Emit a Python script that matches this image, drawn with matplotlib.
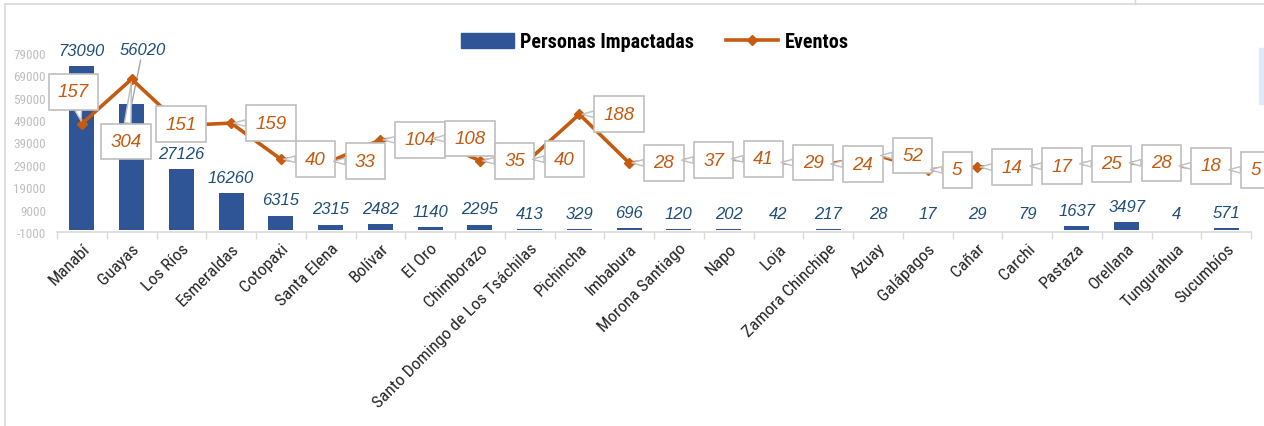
import numpy as np
import matplotlib.pyplot as plt
from matplotlib import font_manager
from matplotlib.patches import Rectangle
from matplotlib.lines import Line2D

# datos
provincias = ['Manabí', 'Guayas', 'Los Ríos', 'Esmeraldas', 'Cotopaxi', 'Santa Elena',
              'Bolívar', 'El Oro', 'Chimborazo', 'Santo Domingo de Los Tsáchilas',
              'Pichincha', 'Imbabura', 'Morona Santiago', 'Napo', 'Loja',
              'Zamora Chinchipe', 'Azuay', 'Galápagos', 'Cañar', 'Carchi', 'Pastaza',
              'Orellana', 'Tungurahua', 'Sucumbíos']
personas = [73090, 56020, 27126, 16260, 6315, 2315, 2482, 1140, 2295, 413, 329, 696,
            120, 202, 42, 217, 28, 17, 29, 79, 1637, 3497, 4, 571]
eventos = [157, 304, 151, 159, 40, 33, 104, 108, 35, 40, 188, 28, 37, 41, 29, 24, 52,
           5, 14, 17, 25, 28, 18, 5]
yticks = [-1000, 9000, 19000, 29000, 39000, 49000, 59000, 69000, 79000]

# posicion de las etiquetas de eventos (puntos, alineacion)
ev_off = [(-6, 23, 'center'), (-4, -45, 'center'), (0, 1, 'center')] + [(17.5, 0, 'left')] * 21

avail = {f.name for f in font_manager.fontManager.ttflist}
cond = [f for f in ['Liberation Sans Narrow', 'Roboto Condensed', 'Open Sans Condensed',
                    'DejaVu Sans Condensed'] if f in avail]
cond_fam = cond + ['DejaVu Sans']
body_fam = ['Liberation Sans', 'DejaVu Sans'] if 'Liberation Sans' in avail else ['DejaVu Sans']

BLUE = '#2F5597'
ORANGE = '#C55A11'
LBL_BLUE = '#1F4E79'

fig = plt.figure(figsize=(12.64, 4.27), dpi=100)
ax = fig.add_axes([57 / 1264, 1 - 233 / 427, 1194 / 1264, 179 / 427])
ax2 = ax.twinx()

x = np.arange(len(provincias))
ax.bar(x, personas, width=0.5, color=BLUE, zorder=2)
ax.set_xlim(-0.5, len(x) - 0.5)
ax.set_ylim(-1000, 79000)
ax.set_yticks(yticks)
ax.set_yticklabels([str(v) for v in yticks], family=cond_fam, fontsize=9.5, color='#BFBFBF')
ax.tick_params(axis='y', length=0, pad=8)
ax.set_xticks(x)
ax.set_xticklabels(provincias, rotation=45, ha='right', rotation_mode='anchor',
                   family=cond_fam, fontsize=12.5, color='#262626')
ax.set_xticks(np.arange(-0.5, len(x), 1), minor=True)
ax.tick_params(axis='x', which='major', length=0, pad=6)
ax.tick_params(axis='x', which='minor', length=5, color='#D9D9D9', width=1)
for s in ['top', 'right', 'left']:
    ax.spines[s].set_visible(False)
ax.spines['bottom'].set_color('#D9D9D9')
ax.spines['bottom'].set_linewidth(1.2)

# etiquetas de barras
for i, v in enumerate(personas):
    if i == 1:
        ax.annotate(f'{v}', xy=(i, v), xytext=(8, 34), textcoords='offset points',
                    ha='center', va='bottom', style='italic', fontsize=12,
                    color=LBL_BLUE, family=body_fam,
                    arrowprops=dict(arrowstyle='-', color='#A6A6A6', lw=1, shrinkA=0, shrinkB=0))
    else:
        ax.annotate(f'{v}', xy=(i, max(v, 0)), xytext=(0, 6), textcoords='offset points',
                    ha='center', va='bottom', style='italic', fontsize=12,
                    color=LBL_BLUE, family=body_fam)

# linea de eventos
ax2.plot(x, eventos, color=ORANGE, lw=2.6, marker='D', markersize=5, zorder=3)
ax2.set_ylim(-200, 390)
ax2.set_yticks([])
for s in ax2.spines.values():
    s.set_visible(False)
ax.set_zorder(1)
ax2.set_zorder(2)
ax.patch.set_visible(False)

for i, v in enumerate(eventos):
    dx, dy, ha = ev_off[i]
    ax2.annotate(f'{v}', xy=(i, v), xytext=(dx, dy), textcoords='offset points',
                 ha=ha, va='center', style='italic', fontsize=13.5, color=ORANGE,
                 family=body_fam,
                 bbox=dict(boxstyle='square,pad=0.5', fc='white', ec='#BFBFBF', lw=1.2),
                 arrowprops=dict(arrowstyle='wedge,tail_width=0.35,shrink_factor=0.5',
                                 fc='white', ec='#BFBFBF', lw=1, shrinkA=0, shrinkB=2),
                 annotation_clip=False, zorder=4)

# leyenda
handles = [Rectangle((0, 0), 1, 1, color=BLUE),
           Line2D([0], [0], color=ORANGE, lw=2.6, marker='D', markersize=5)]
fig.legend(handles, ['Personas Impactadas', 'Eventos'], loc='center', ncol=2,
           bbox_to_anchor=(655 / 1264, 1 - 43 / 427), frameon=False,
           prop=dict(family=cond_fam, weight='bold', size=14.5),
           handlelength=2.6, handletextpad=0.3, columnspacing=1.6)

# marco del grafico
fig.add_artist(Line2D([5 / 1264, 5 / 1264], [0, 1 - 5 / 427], color='#D9D9D9', lw=1.2,
                      transform=fig.transFigure))
fig.add_artist(Line2D([5 / 1264, 1], [1 - 5 / 427, 1 - 5 / 427], color='#D9D9D9', lw=1.2,
                      transform=fig.transFigure))
fig.add_artist(Line2D([1135 / 1264, 1135 / 1264], [1 - 5 / 427, 1], color='#D9D9D9', lw=1,
                      transform=fig.transFigure))
fig.add_artist(Rectangle((1259 / 1264, 1 - 105 / 427), 5 / 1264, 56 / 427, color='#DEEAF6',
                         transform=fig.transFigure))

fig.savefig('out.png', dpi=100)
